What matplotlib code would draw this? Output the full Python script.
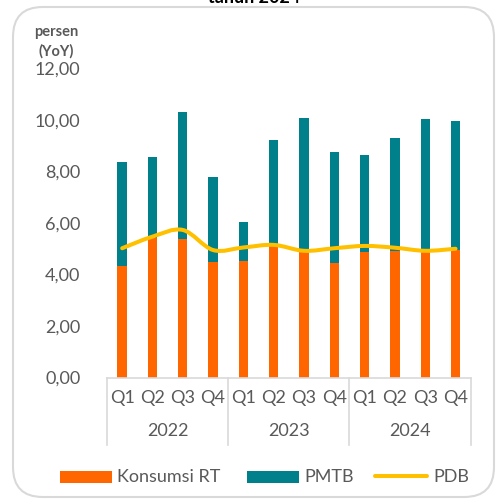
import matplotlib
matplotlib.use("Agg")
import matplotlib.pyplot as plt
import numpy as np
from matplotlib.path import Path
from matplotlib.patches import PathPatch, FancyBboxPatch, Rectangle
from matplotlib.lines import Line2D
import matplotlib.transforms as mtransforms

plt.rcParams['font.family'] = ['Lato', 'DejaVu Sans']

quarters = ["Q1", "Q2", "Q3", "Q4"] * 3
years = ["2022", "2023", "2024"]
konsumsi_rt = [4.34, 5.41, 5.37, 4.47, 4.51, 5.11, 5.00, 4.43, 4.89, 4.91, 4.87, 4.95]
pmtb_total = [8.38, 8.55, 10.32, 7.77, 6.03, 9.22, 10.07, 8.75, 8.64, 9.29, 10.03, 9.96]
pmtb = [t - k for t, k in zip(pmtb_total, konsumsi_rt)]
pdb = [5.02, 5.47, 5.73, 4.95, 5.05, 5.15, 4.92, 5.02, 5.11, 5.04, 4.92, 5.00]
yticks = [0, 2, 4, 6, 8, 10, 12]
ytick_labels = ["0,00", "2,00", "4,00", "6,00", "8,00", "10,00", "12,00"]

W, H = 496, 500
fig = plt.figure(figsize=(W / 100, H / 100), dpi=100)

def fx(px):
    return px / W

def fy(py):
    return 1 - py / H

# rounded border
border = FancyBboxPatch((fx(13), fy(497)), fx(481), (497 - 7) / H,
                        boxstyle="round,pad=0,rounding_size=0.06",
                        transform=fig.transFigure, facecolor="none",
                        edgecolor="#D9D9D9", lw=1.5, zorder=-1)
fig.patches.append(border)

# partially visible title (cut off at the top edge, as in the reference)
fig.text(fx(254), fy(2.7), "tahun 2024", ha="center", va="baseline",
         fontsize=13, fontweight="bold", color="black")

ax_left, ax_right = 107, 470.7
ax_top, ax_bot = 68.5, 377.5
ax = fig.add_axes([fx(ax_left), fy(ax_bot), fx(ax_right - ax_left), (ax_bot - ax_top) / H])
ax.set_facecolor("none")

x = np.arange(len(quarters))
bw = 0.31
orange = "#FF6600"
teal = "#00808A"
yellow = "#FFC000"
gray = "#595959"
lgray = "#D9D9D9"

ax.bar(x, konsumsi_rt, width=bw, color=orange, zorder=2)
ax.bar(x, pmtb, width=bw, bottom=konsumsi_rt, color=teal, zorder=2)

# smoothed line (Catmull-Rom -> cubic Bezier)
pts = np.column_stack([x, pdb]).astype(float)
verts = [tuple(pts[0])]
codes = [Path.MOVETO]
n = len(pts)
for i in range(n - 1):
    p0 = pts[i - 1] if i > 0 else pts[i]
    p1 = pts[i]
    p2 = pts[i + 1]
    p3 = pts[i + 2] if i + 2 < n else pts[i + 1]
    c1 = p1 + (p2 - p0) / 6
    c2 = p2 - (p3 - p1) / 6
    verts += [tuple(c1), tuple(c2), tuple(p2)]
    codes += [Path.CURVE4] * 3
ax.add_patch(PathPatch(Path(verts, codes), facecolor="none", edgecolor=yellow,
                       lw=2.9, capstyle="round", zorder=3))

ax.set_xlim(-0.5, len(quarters) - 0.5)
ax.set_ylim(0, 12)
ax.set_yticks(yticks)
ax.set_yticklabels(ytick_labels)
ax.tick_params(axis="y", length=0, pad=19, labelsize=13, labelcolor=gray)
ax.set_xticks([])
for s in ["left", "right", "top"]:
    ax.spines[s].set_visible(False)
ax.spines["bottom"].set_color(lgray)
ax.spines["bottom"].set_linewidth(1.2)

axh = ax_bot - ax_top
trans = mtransforms.blended_transform_factory(ax.transData, ax.transAxes)
for i, q in enumerate(quarters):
    ax.text(i, -20.5 / axh, q, transform=trans, ha="center", va="center",
            fontsize=13, color=gray)
for j, yr in enumerate(years):
    ax.text(4 * j + 1.5, -53 / axh, yr, transform=trans, ha="center", va="center",
            fontsize=13, color=gray)
for xs in [-0.5, 3.5, 7.5, 11.5]:
    ax.add_line(Line2D([xs, xs], [0, -67.5 / axh], transform=trans, color=lgray,
                       lw=1.2, clip_on=False))

# axis unit label
fig.text(fx(56), fy(32), "persen", ha="center", va="center", fontsize=10.5,
         fontweight="bold", color=gray)
fig.text(fx(56), fy(51), "(YoY)", ha="center", va="center", fontsize=10.5,
         fontweight="bold", color=gray)

# legend
ly = 477
fig.patches.append(Rectangle((fx(60), fy(483)), fx(52), 12 / H, transform=fig.transFigure,
                             facecolor=orange, edgecolor="none"))
fig.text(fx(117), fy(ly), "Konsumsi RT", ha="left", va="center", fontsize=13, color=gray)
fig.patches.append(Rectangle((fx(247), fy(483)), fx(52), 12 / H, transform=fig.transFigure,
                             facecolor=teal, edgecolor="none"))
fig.text(fx(304), fy(ly), "PMTB", ha="left", va="center", fontsize=13, color=gray)
fig.lines.append(Line2D([fx(375), fx(427)], [fy(476), fy(476)], transform=fig.transFigure,
                        color=yellow, lw=2.9, solid_capstyle="round"))
fig.text(fx(433), fy(ly), "PDB", ha="left", va="center", fontsize=13, color=gray)

fig.savefig("out.png", dpi=100)
